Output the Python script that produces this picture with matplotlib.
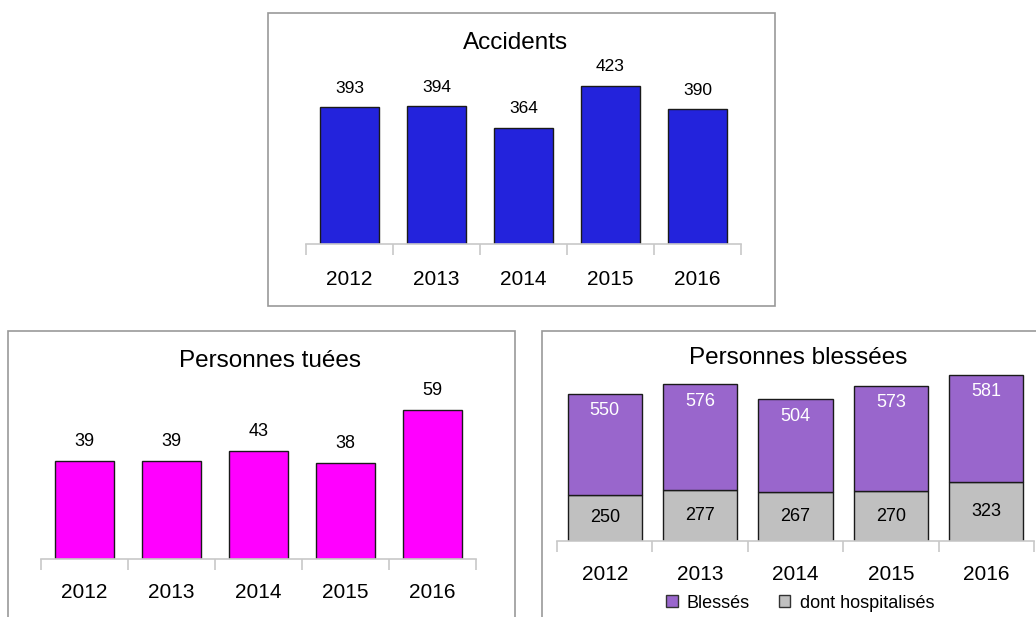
import matplotlib
matplotlib.use("Agg")
import matplotlib.pyplot as plt
from matplotlib.patches import Rectangle, Patch

plt.rcParams['font.family'] = ['Liberation Sans', 'DejaVu Sans']

# Données
annees = ['2012', '2013', '2014', '2015', '2016']
accidents = [393, 394, 364, 423, 390]
tues = [39, 39, 43, 38, 59]
hospitalises = [250, 277, 267, 270, 323]
blesses = [550, 576, 504, 573, 581]

W, H = 1036, 617
fig = plt.figure(figsize=(W / 100, H / 100), dpi=100)

AXE_GRIS = '#c8c8c8'
BORD = '#1a1a1a'
PX = 72 / 100  # points par pixel


def cadre(x0, y0, x1, y1):
    fig.add_artist(Rectangle((x0 / W, 1 - y1 / H), (x1 - x0) / W, (y1 - y0) / H,
                             transform=fig.transFigure, fill=False,
                             edgecolor='#999999', lw=1.2))


def axe(x0, x1, base, ymin, ymax, echelle, pad=24.5):
    h = (ymax - ymin) * echelle
    ax = fig.add_axes([x0 / W, 1 - base / H, (x1 - x0) / W, h / H])
    ax.set_xlim(-0.5, 4.5)
    ax.set_ylim(ymin, ymax)
    for s in ['top', 'right', 'left']:
        ax.spines[s].set_visible(False)
    ax.spines['bottom'].set_color(AXE_GRIS)
    ax.spines['bottom'].set_linewidth(1.2)
    ax.set_yticks([])
    ax.set_xticks(range(5))
    ax.set_xticklabels(annees, fontsize=15)
    ax.set_xticks([i - 0.5 for i in range(6)], minor=True)
    ax.tick_params(axis='x', which='major', length=0, pad=pad * PX)
    ax.tick_params(axis='x', which='minor', length=11 * PX, color=AXE_GRIS, width=1.2)
    ax.patch.set_alpha(0)
    return ax


# Cadres
cadre(268, 12.7, 774.7, 305.7)
cadre(8, 331.3, 515, 640)
cadre(541.7, 331.3, 1045, 640)

# Accidents
ax1 = axe(306, 741, 244, 200, 450, 0.709, pad=26)
ax1.bar(range(5), accidents, width=0.667, color='#2323DC', edgecolor=BORD, lw=1)
for i, v in enumerate(accidents):
    ax1.annotate(str(v), (i, v), xytext=(0, 19 * PX), textcoords='offset points',
                 ha='center', va='center', fontsize=12.5)
fig.text(516 / W, 1 - 43 / H, 'Accidents', ha='center', va='center', fontsize=17.5)

# Personnes tuées
ax2 = axe(41, 476, 559, 0, 70, 2.52)
ax2.bar(range(5), tues, width=0.667, color='#FF00FF', edgecolor=BORD, lw=1)
for i, v in enumerate(tues):
    ax2.annotate(str(v), (i, v), xytext=(0, 19.5 * PX), textcoords='offset points',
                 ha='center', va='center', fontsize=13)
fig.text(270 / W, 1 - 361 / H, 'Personnes tuées', ha='center', va='center', fontsize=17.5)

# Personnes blessées
ax3 = axe(557, 1034, 541, 0, 1000, 0.184)
ax3.bar(range(5), hospitalises, width=0.776, color='#C0C0C0', edgecolor=BORD, lw=1)
ax3.bar(range(5), blesses, bottom=hospitalises, width=0.776, color='#9966CC',
        edgecolor=BORD, lw=1)
for i in range(5):
    ax3.text(i, hospitalises[i] / 2, str(hospitalises[i]), ha='center', va='center',
             fontsize=13, color='black')
    ax3.annotate(str(blesses[i]), (i, hospitalises[i] + blesses[i]),
                 xytext=(0, -17 * PX), textcoords='offset points',
                 ha='center', va='center', fontsize=13, color='white')
fig.text(798 / W, 1 - 358 / H, 'Personnes blessées', ha='center', va='center', fontsize=17.5)

poignees = [Patch(facecolor='#9966CC', edgecolor='#333333'),
            Patch(facecolor='#C0C0C0', edgecolor='#333333')]
fig.legend(poignees, ['Blessés', 'dont hospitalisés'], loc='center',
           bbox_to_anchor=(800 / W, 1 - 603 / H), ncol=2, frameon=False,
           fontsize=13, handlelength=0.65, handleheight=0.65,
           handletextpad=0.5, columnspacing=1.6, borderpad=0)

fig.savefig('out.png', dpi=100)
